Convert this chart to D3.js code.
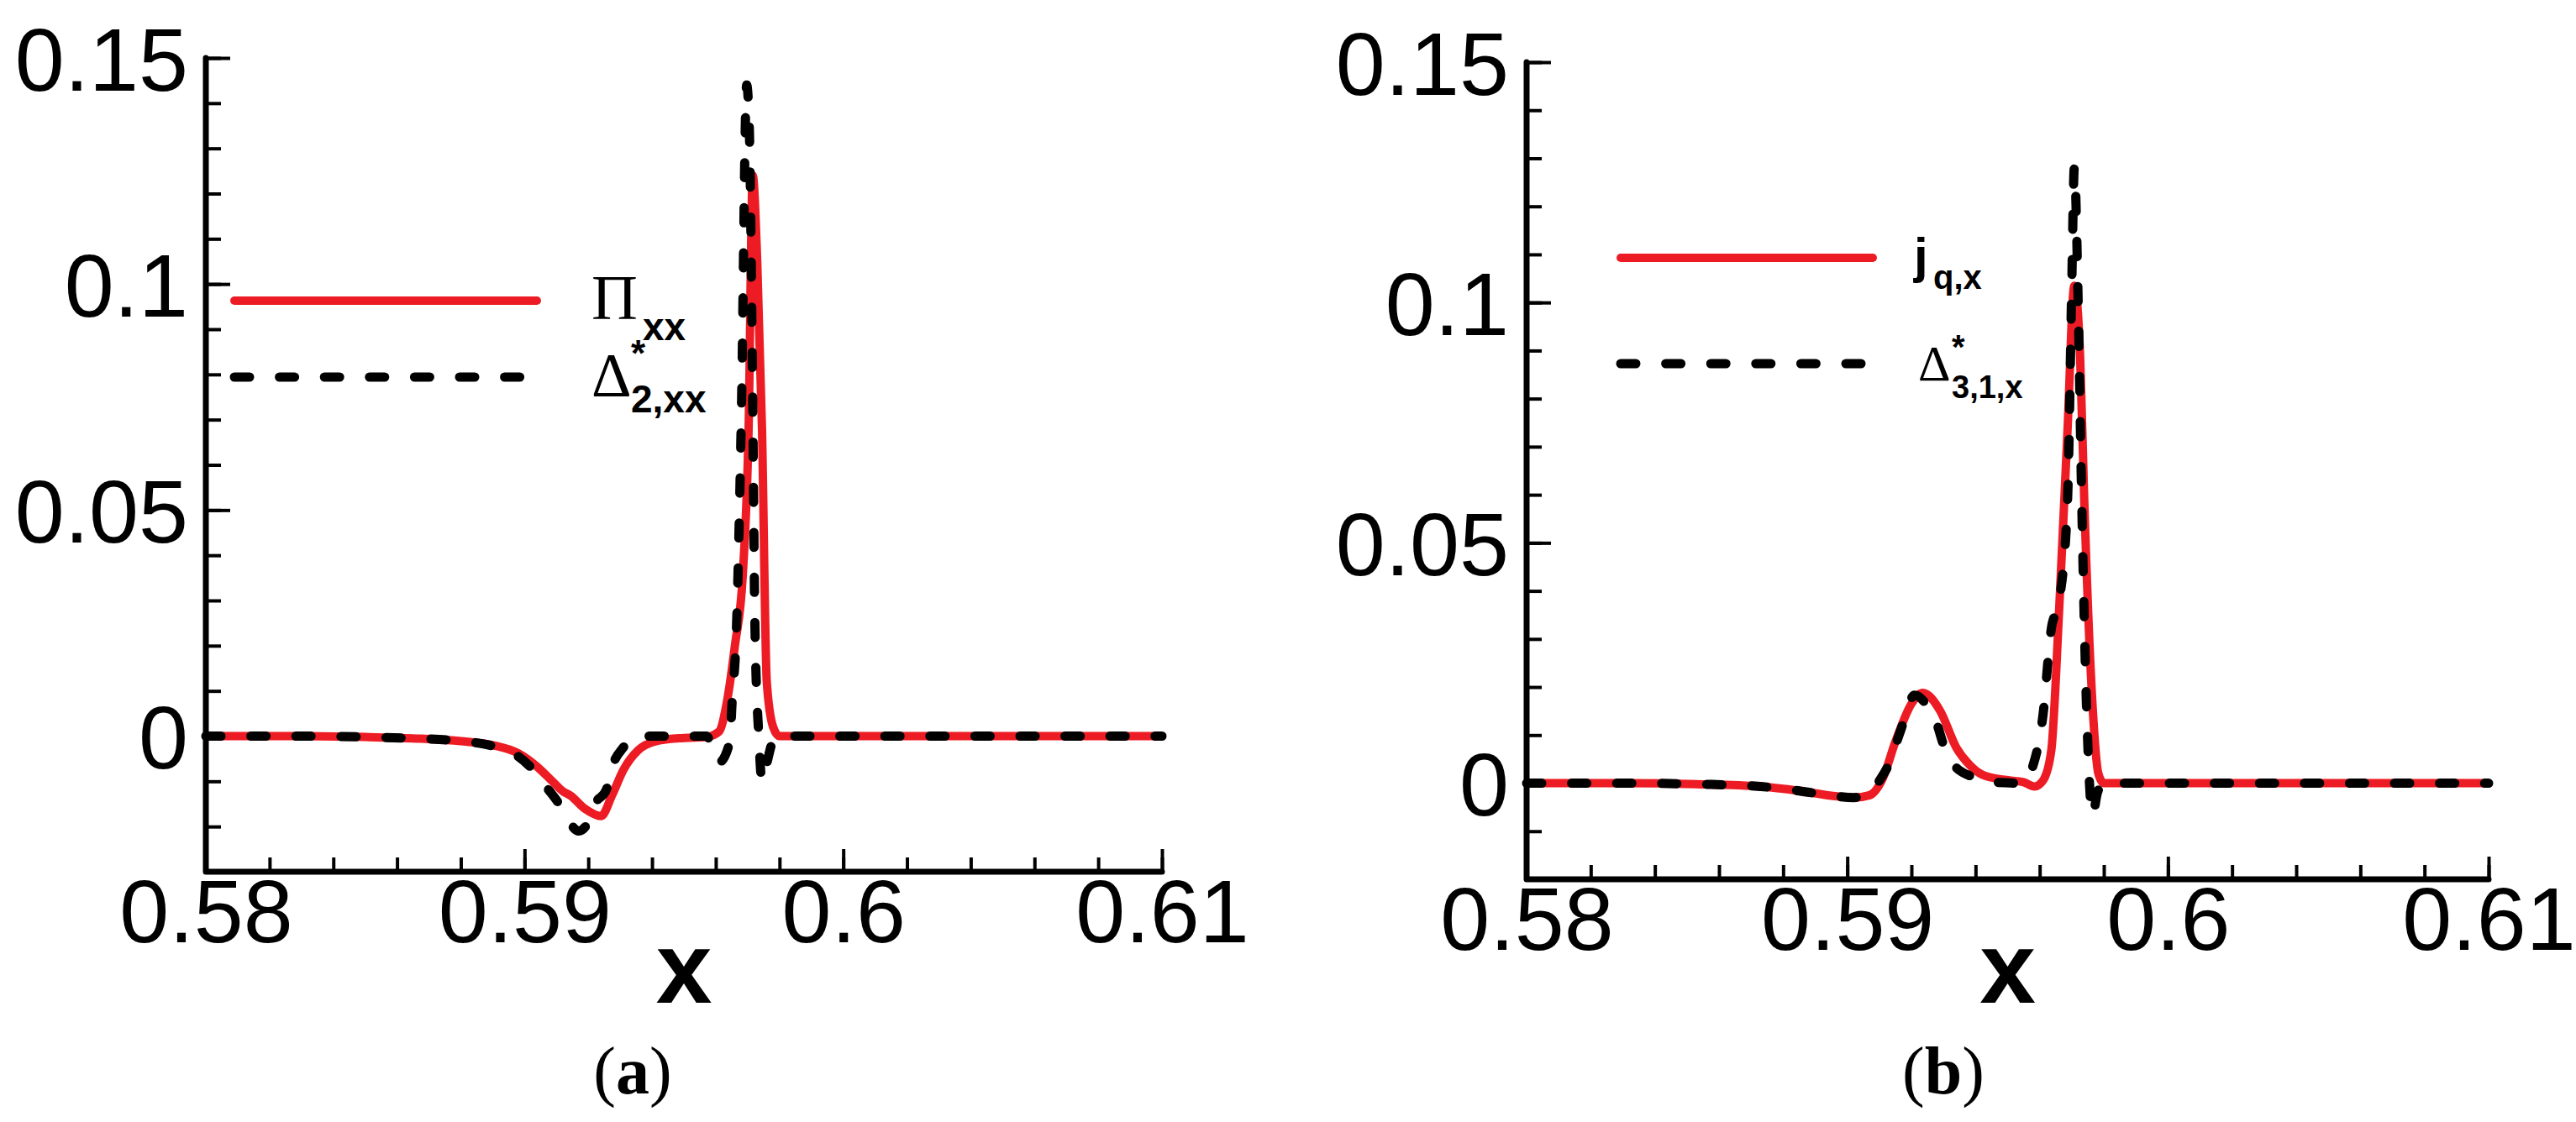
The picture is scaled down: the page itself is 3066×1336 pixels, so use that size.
<!DOCTYPE html>
<html>
<head>
<meta charset="utf-8">
<script src="https://cdn.jsdelivr.net/npm/d3@7"></script>
<style>
  body { margin: 0; background: #fff; }
  svg { display: block; }
</style>
</head>
<body>
<svg id="fig" width="3066" height="1336"></svg>
<script>
// ---- data ----
var xTicks = [0.58, 0.59, 0.6, 0.61];
var yTicks = [0, 0.05, 0.1, 0.15];

// panel (a): Pi_xx (red) and Delta*_2,xx (black dashed)
var xPi   = [0.58, 0.583, 0.585, 0.5865, 0.588, 0.589, 0.5898, 0.5904, 0.5909, 0.5912, 0.59145, 0.5919, 0.5924, 0.59275, 0.5931, 0.59357, 0.5942, 0.595, 0.5957, 0.5961, 0.59635, 0.5966, 0.59685, 0.59703, 0.59716, 0.5973, 0.59745, 0.5976, 0.5978, 0.598, 0.61];
var valPi = [0, 0, -0.0002, -0.0005, -0.0011, -0.002, -0.0038, -0.0068, -0.0102, -0.0122, -0.0132, -0.0161, -0.0177, -0.013, -0.0075, -0.0031, -0.001, -0.0004, -0.0002, 0.001, 0.0076, 0.02, 0.036, 0.068, 0.124, 0.105, 0.068, 0.012, 0.002, 0, 0];

var xD2   = [0.58, 0.583, 0.585, 0.5865, 0.588, 0.589, 0.5898, 0.5903, 0.5907, 0.5911, 0.5914, 0.5917, 0.592, 0.59222, 0.59257, 0.59275, 0.5931, 0.5935, 0.594, 0.5957, 0.5961, 0.59645, 0.5965, 0.59665, 0.5968, 0.59697, 0.59705, 0.59715, 0.59723, 0.59735, 0.59745, 0.5976, 0.5978, 0.598, 0.61];
var valD2 = [0, 0, -0.0002, -0.0005, -0.0011, -0.0022, -0.0045, -0.0077, -0.0114, -0.0152, -0.019, -0.021, -0.019, -0.0149, -0.0118, -0.0068, -0.0025, 0, 0, 0, -0.0058, -0.001, 0.006, 0.024, 0.07, 0.144, 0.135, 0.08, 0.024, 0, -0.01, -0.006, -0.001, 0, 0];

// panel (b): j_q,x (red) and Delta*_3,1,x (black dashed)
var xJ   = [0.58, 0.583, 0.5853, 0.5873, 0.5885, 0.5895, 0.5902, 0.5907, 0.5911, 0.5915, 0.592, 0.59235, 0.5929, 0.5934, 0.5938, 0.5942, 0.5949, 0.5955, 0.59584, 0.5961, 0.59636, 0.59661, 0.59687, 0.59708, 0.59726, 0.59739, 0.59765, 0.59783, 0.598, 0.61];
var valJ = [0, 0, -0.0002, -0.0007, -0.0016, -0.0026, -0.003, -0.0025, 0.0009, 0.0086, 0.0165, 0.0188, 0.015, 0.0074, 0.0039, 0.0018, 0.0007, 0.0002, -0.0007, 0.0005, 0.0067, 0.0365, 0.0737, 0.1035, 0.089, 0.0588, 0.016, 0.002, 0, 0];

var xD31   = [0.58, 0.583, 0.5853, 0.5873, 0.5885, 0.5895, 0.5902, 0.5907, 0.591, 0.5913, 0.59165, 0.5921, 0.5925, 0.5928, 0.593, 0.5933, 0.5939, 0.5945, 0.5955, 0.59576, 0.5961, 0.59636, 0.59661, 0.59687, 0.597, 0.59708, 0.5972, 0.59731, 0.59747, 0.59765, 0.5978, 0.598, 0.61];
var valD31 = [0, 0, -0.0002, -0.0007, -0.0016, -0.0026, -0.003, -0.0022, 0.0005, 0.004, 0.0107, 0.0183, 0.016, 0.0122, 0.008, 0.004, 0.0013, 0.0002, 0, 0.003, 0.014, 0.032, 0.038, 0.059, 0.1035, 0.128, 0.1, 0.059, 0.014, -0.0067, -0.002, 0, 0];

var RED = "#ed1c24";
var sans = "'Liberation Sans', Arial, sans-serif";
var serif = "'Liberation Serif', 'Times New Roman', serif";

var svg = d3.select("#fig");
svg.append("rect").attr("width", 3066).attr("height", 1336).attr("fill", "#fff");

function panel(p) {
  var x = d3.scaleLinear().domain([0.58, 0.61]).range(p.xr);
  var y = d3.scaleLinear().domain(p.yDomain).range(p.yr);
  var g = svg.append("g");
  var y0 = y.range()[0], x0 = x.range()[0];

  var xMinor = d3.range(0, 16).map(function(i) { return +(0.58 + i * 0.002).toFixed(4); });
  var yMinor = d3.range(Math.round(p.yDomain[0] * 100) + 1, 16).map(function(i) { return i / 100; });

  // minor ticks
  g.append("g").attr("transform", "translate(0," + y0 + ")")
    .call(d3.axisBottom(x).tickValues(xMinor).tickSize(-17).tickFormat(""))
    .call(function(s) { s.select(".domain").remove(); });
  g.append("g").attr("transform", "translate(" + x0 + ",0)")
    .call(d3.axisLeft(y).tickValues(yMinor).tickSize(-18).tickFormat(""))
    .call(function(s) { s.select(".domain").remove(); });

  // major ticks + labels
  var fmt = d3.format("~g");
  g.append("g").attr("class", "xmaj").attr("transform", "translate(0," + y0 + ")")
    .call(d3.axisBottom(x).tickValues(xTicks).tickSize(-27).tickPadding(9).tickFormat(fmt))
    .call(function(s) { s.select(".domain").remove(); });
  g.append("g").attr("class", "ymaj").attr("transform", "translate(" + x0 + ",0)")
    .call(d3.axisLeft(y).tickValues(yTicks).tickSize(-29).tickPadding(21).tickFormat(fmt))
    .call(function(s) { s.select(".domain").remove(); });

  g.selectAll(".tick line").attr("stroke", "#000").attr("stroke-width", 4);
  g.selectAll("g.xmaj, g.ymaj").attr("font-family", sans).attr("font-size", 106);
  g.selectAll("g.ymaj text").attr("dy", "0.36em");
  g.selectAll(".tick text").attr("fill", "#000");

  // the L-shaped axis frame
  g.append("path")
    .attr("d", "M" + x0 + "," + y(p.yDomain[1]) + "V" + y0 + "H" + x.range()[1])
    .attr("fill", "none").attr("stroke", "#000").attr("stroke-width", 7)
    .attr("stroke-linecap", "round").attr("stroke-linejoin", "round");

  var line = d3.line()
    .x(function(d) { return x(d[0]); })
    .y(function(d) { return y(d[1]); })
    .curve(d3.curveMonotoneX);

  g.append("path").datum(d3.zip(p.redX, p.redY))
    .attr("d", line).attr("fill", "none").attr("stroke", RED)
    .attr("stroke-width", 10).attr("stroke-linejoin", "round");
  g.append("path").datum(d3.zip(p.blackX, p.blackY))
    .attr("d", line).attr("fill", "none").attr("stroke", "#000")
    .attr("stroke-width", 11).attr("stroke-dasharray", "18,35.6")
    .attr("stroke-linecap", "round").attr("stroke-linejoin", "round");

  // axis title
  g.append("text").attr("x", (x.range()[0] + x.range()[1]) / 2).attr("y", 1194)
    .attr("text-anchor", "middle").attr("font-family", sans).attr("font-weight", "bold")
    .attr("font-size", 120).text("x");

  // legend
  var L = p.legend;
  g.append("path").attr("d", "M" + L.x0 + "," + L.yRed + "H" + L.redEnd)
    .attr("stroke", RED).attr("stroke-width", 10).attr("stroke-linecap", "round");
  g.append("path").attr("d", "M" + L.x0 + "," + L.yBlack + "H" + L.blackEnd)
    .attr("stroke", "#000").attr("stroke-width", 11).attr("stroke-dasharray", "18,35.6")
    .attr("stroke-linecap", "round");
  L.texts.forEach(function(t) {
    g.append("text").attr("x", t[0]).attr("y", t[1])
      .attr("font-family", t[3] ? serif : sans)
      .attr("font-weight", t[3] ? "normal" : "bold")
      .attr("font-size", t[2]).text(t[4]);
  });

  // caption
  var cap = g.append("text").attr("x", p.capX).attr("y", 1302)
    .attr("text-anchor", "middle").attr("font-family", serif).attr("font-size", 80);
  cap.append("tspan").text("(");
  cap.append("tspan").attr("font-weight", "bold").text(p.cap);
  cap.append("tspan").text(")");
}

panel({
  xr: [245, 1383], yr: [1038, 69], yDomain: [-0.03, 0.15],
  redX: xPi, redY: valPi, blackX: xD2, blackY: valD2,
  cap: "a", capX: 753,
  legend: {
    x0: 279, yRed: 358, redEnd: 639, yBlack: 449, blackEnd: 619,
    texts: [
      [704, 380, 76, true, "\u03A0"],
      [765, 405, 46, false, "xx"],
      [751, 436, 44, false, "*"],
      [704, 472, 74, true, "\u0394"],
      [751, 491, 46, false, "2,xx"]
    ]
  }
});

panel({
  xr: [1817, 2962], yr: [1047, 74], yDomain: [-0.02, 0.15],
  redX: xJ, redY: valJ, blackX: xD31, blackY: valD31,
  cap: "b", capX: 2313,
  legend: {
    x0: 1929, yRed: 307, redEnd: 2229, yBlack: 433, blackEnd: 2215,
    texts: [
      [2278, 325, 60, false, "j"],
      [2301, 344, 40, false, "q,x"],
      [2323, 427, 40, false, "*"],
      [2283, 453, 60, true, "\u0394"],
      [2323, 474, 38, false, "3,1,x"]
    ]
  }
});
</script>
</body>
</html>
